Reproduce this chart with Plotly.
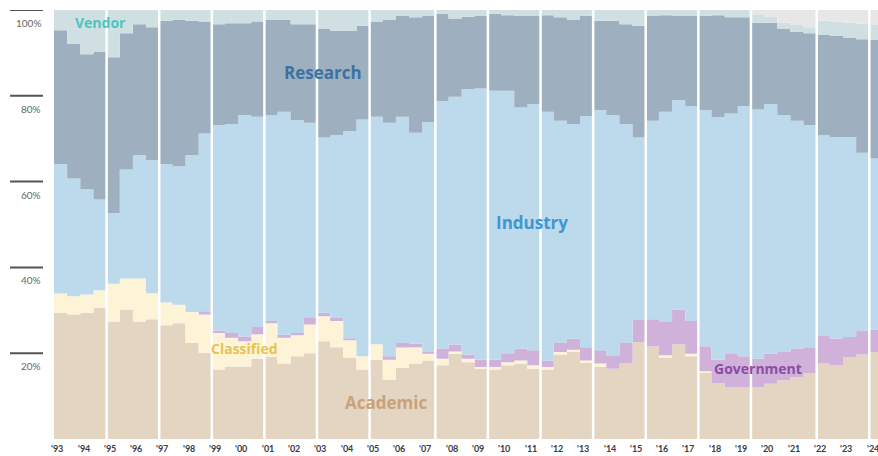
import plotly.graph_objects as go

# share of TOP500 systems by segment, one value per list (June / November), '93 .. '24 (%)
academic = [29.4, 29.0, 29.4, 30.6, 27.4, 30.2, 27.4, 27.9, 26.5, 27.0, 22.4, 20.1, 16.2, 16.9, 16.9, 18.7,
            19.1, 17.6, 19.3, 20.0, 22.8, 21.4, 19.0, 16.2, 18.5, 13.8, 16.6, 17.6, 18.3, 17.2, 19.9, 17.9,
            16.4, 16.2, 17.2, 17.6, 16.4, 16.2, 19.7, 20.3, 17.7, 16.8, 16.4, 17.6, 22.6, 21.6, 19.0, 22.0,
            19.3, 15.4, 13.0, 12.1, 12.1, 12.1, 12.9, 13.7, 14.4, 15.4, 17.6, 17.2, 19.0, 19.7, 20.3]
classified = [4.5, 4.3, 4.3, 4.1, 8.8, 7.2, 10.0, 6.1, 5.3, 4.3, 7.2, 8.9, 8.5, 6.7, 5.9, 5.7,
              7.9, 6.0, 4.9, 6.7, 5.8, 6.1, 4.0, 3.1, 3.6, 4.7, 4.7, 3.8, 1.6, 1.5, 0.5, 0.8,
              0.4, 0.6, 0.7, 0.7, 0.8, 0.6, 0.6, 0.5, 0.6, 0.8, 0, 0, 0, 0, 0.5, 0,
              0.6, 0.4, 0, 0, 0, 0, 0, 0, 0, 0, 0, 0, 0, 0, 0]
government = [0, 0, 0, 0, 0, 0, 0, 0, 0, 0, 0, 0.8, 0.6, 1.1, 1.1, 1.7,
              0.5, 0.7, 0.5, 1.7, 0.8, 0.7, 0.5, 0, 0, 0.8, 1.1, 0.8, 0.4, 2.4, 1.6, 1.0,
              1.7, 1.7, 2.1, 2.8, 3.5, 1.5, 2.1, 2.6, 3.1, 3.1, 3.1, 4.8, 5.3, 6.3, 7.8, 8.2,
              7.6, 5.8, 5.5, 7.9, 7.2, 6.6, 7.0, 6.6, 6.7, 6.0, 6.6, 6.2, 4.8, 5.5, 5.2]
industry = [30.2, 27.4, 24.5, 21.1, 16.5, 25.4, 28.8, 31.0, 32.3, 32.3, 36.6, 41.4, 47.9, 48.7, 51.6, 49.0,
            48.0, 52.0, 49.6, 45.3, 40.9, 42.6, 48.3, 55.2, 53.0, 54.4, 52.7, 49.2, 53.6, 57.7, 57.8, 61.9,
            63.2, 62.7, 61.2, 56.2, 57.4, 58.0, 51.8, 50.0, 53.9, 56.0, 56.0, 51.0, 42.4, 46.3, 49.0, 48.8,
            50.1, 55.1, 56.5, 55.9, 58.3, 58.1, 58.2, 55.2, 53.1, 51.8, 46.6, 47.0, 46.6, 41.5, 39.9]
research = [31.2, 31.5, 31.5, 34.5, 36.3, 31.8, 30.5, 31.0, 33.4, 34.1, 31.3, 26.1, 23.5, 23.5, 21.4, 22.2,
            22.2, 21.4, 22.4, 23.0, 25.4, 24.3, 23.3, 21.8, 22.2, 24.1, 23.5, 26.9, 24.7, 20.3, 18.2, 16.8,
            16.9, 17.9, 17.6, 21.3, 20.5, 22.5, 24.1, 24.4, 23.3, 20.8, 22.0, 23.3, 26.0, 24.4, 22.5, 19.6,
            21.0, 21.9, 23.8, 22.4, 20.7, 20.2, 18.9, 20.2, 20.7, 21.4, 23.4, 23.6, 23.2, 26.5, 27.6]
vendor = [4.7, 7.8, 10.3, 9.7, 11.0, 5.4, 3.3, 4.0, 2.5, 2.3, 2.5, 2.7, 3.3, 3.1, 3.1, 2.7,
          2.3, 2.3, 3.3, 3.3, 4.3, 4.9, 4.9, 3.7, 2.7, 2.2, 1.4, 1.7, 1.4, 0.9, 2.0, 1.6,
          1.4, 0.9, 1.2, 1.4, 1.4, 1.2, 1.7, 2.2, 1.4, 2.5, 2.5, 3.3, 3.7, 1.4, 1.2, 1.4,
          1.4, 1.4, 1.2, 1.7, 1.7, 2.0, 1.5, 1.3, 1.6, 1.4, 3.3, 3.3, 3.4, 3.6, 3.5]
others = [0] * 53 + [1.0, 1.5, 3.0, 3.5, 4.0, 2.5, 2.7, 3.0, 3.2, 3.5]

year_labels = ["'93", "'94", "'95", "'96", "'97", "'98", "'99", "'00", "'01", "'02", "'03",
               "'04", "'05", "'06", "'07", "'08", "'09", "'10", "'11", "'12", "'13", "'14",
               "'15", "'16", "'17", "'18", "'19", "'20", "'21", "'22", "'23", "'24"]
pct_ticks = [20, 40, 60, 80, 100]
pct_labels = ["20%", "40%", "60%", "80%", "100%"]
# list index where a white divider is drawn
dividers = [4, 8, 12, 16, 20, 24, 29, 33, 37, 41, 45, 49, 53, 58, 62]

W, H = 878, 456
L, T, B = 54, 10, 17
plot_w = W - L
step_px = 13.15

series = [
    ("Academic", academic, "#e4d5c3"),
    ("Classified", classified, "#fdf3d7"),
    ("Government", government, "#cfb1da"),
    ("Industry", industry, "#bdd9ec"),
    ("Research", research, "#9eb0bf"),
    ("Vendor", vendor, "#d0e0e2"),
    ("Others", others, "#e7e7e7"),
]

# label text placement (x in list index, y in %), colour, size
labels = {
    "Vendor": (3.5, 97.0, "#4dc4c2", 14),
    "Research": (20.45, 85.5, "#3c72a2", 17),
    "Industry": (36.35, 50.4, "#3d97d5", 17),
    "Classified": (14.5, 21.1, "#e9c24e", 14),
    "Academic": (25.25, 8.6, "#c9a277", 17),
    "Government": (53.5, 16.4, "#8c4ca3", 14),
}
label_font = "Open Sans"

fig = go.Figure()
for name, vals, color in series:
    n = len(vals)
    fig.add_trace(go.Scatter(
        x=list(range(n)) + [n], y=list(vals) + [vals[-1]],
        mode="lines", stackgroup="one", line=dict(width=0, shape="hv", color=color),
        fillcolor=color, name=name, hoverinfo="skip"))

shapes = []
for d in dividers:
    shapes.append(dict(type="line", xref="x", yref="paper", x0=d, x1=d, y0=0, y1=1,
                       line=dict(color="white", width=2.5), layer="above"))
annotations = []
for v, t in zip(pct_ticks, pct_labels):
    shapes.append(dict(type="line", xref="paper", yref="y", x0=-44 / plot_w, x1=-11 / plot_w,
                       y0=v, y1=v, line=dict(color="#555555", width=2)))
    annotations.append(dict(xref="paper", yref="y", x=-11 / plot_w, y=v, yshift=-13,
                            text=t, showarrow=False, xanchor="right", yanchor="middle",
                            font=dict(family="Lato", size=10, color="#666666")))

# year labels under the first list of each year
for i, t in enumerate(year_labels):
    annotations.append(dict(xref="x", yref="paper", x=2 * i + 0.25, y=0, yshift=-2,
                            text="<b>%s</b>" % t, showarrow=False, yanchor="top",
                            font=dict(family="Lato", size=9, color="#3a3a48")))

for name, (x, y, c, s) in labels.items():
    annotations.append(dict(x=x, y=y, text="<b>%s</b>" % name, showarrow=False,
                            font=dict(family=label_font, size=s, color=c)))

fig.update_layout(
    width=W, height=H, margin=dict(l=L, r=0, t=T, b=B),
    paper_bgcolor="white", plot_bgcolor="white", showlegend=False,
    shapes=shapes, annotations=annotations,
    xaxis=dict(range=[0, plot_w / step_px], showgrid=False, zeroline=False, showline=False,
               showticklabels=False, ticks=""),
    yaxis=dict(range=[0, 100], showgrid=False, zeroline=False, showline=False,
               showticklabels=False, ticks=""),
)

# page margin off so the figure sits at the window's corner
fig.write_html("out.html", config={"displayModeBar": False},
               post_script="document.body.style.margin='0';")
